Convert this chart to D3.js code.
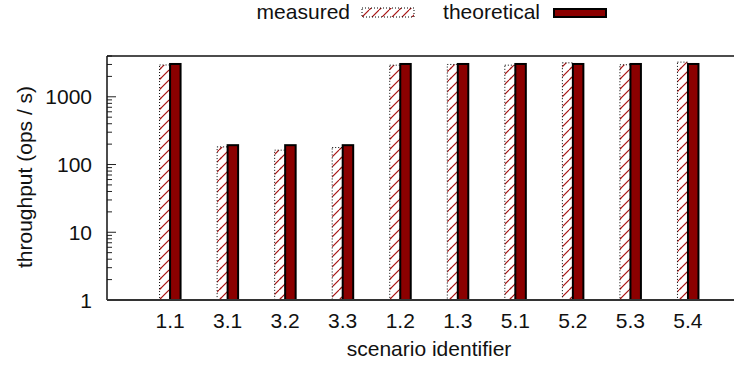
<!DOCTYPE html>
<html><head><meta charset="utf-8">
<script src="https://cdn.jsdelivr.net/npm/d3@7"></script>
<style>body{margin:0;background:#fff;} text{font-family:"Liberation Sans",Arial,sans-serif;fill:#111;}</style>
</head><body>
<svg id="c" width="734" height="365"></svg>
<script>
const categories = ["1.1","3.1","3.2","3.3","1.2","1.3","5.1","5.2","5.3","5.4"];
const measured = [2950, 182, 163, 178, 2930, 3000, 2930, 3170, 2970, 3250];
const theoretical = [3050, 193, 193, 193, 3050, 3050, 3050, 3050, 3050, 3050];
const yTicks = [1, 10, 100, 1000];
const seriesNames = ["measured", "theoretical"];

(function(){
const svg = d3.select("#c");
const pL = 107, pR = 734, pT = 56, pB = 300;
const fs = 21;
const x = d3.scaleLinear().domain([-1.096, 9.8]).range([pL, pR]);
const y = d3.scaleLog().domain([1, 4000]).range([pB, pT]);
const barW = 10.5;

const defs = svg.append("defs");
const pat = defs.append("pattern").attr("id","hatch").attr("patternUnits","userSpaceOnUse")
  .attr("width",10).attr("height",10);
pat.append("rect").attr("width",10).attr("height",10).attr("fill","#fff");
[[0,9,9,0],[-1,10,1,8],[9,10,11,8]].forEach(s=>{
  pat.append("line").attr("x1",s[0]).attr("y1",s[1]).attr("x2",s[2]).attr("y2",s[3])
    .attr("stroke","#a81010").attr("stroke-width",1.1);
});

const minor = [];
for (let d = 1; d <= 1000; d *= 10) for (let k = 2; k <= 9; k++) if (d*k <= 4000) minor.push(d*k);
svg.append("g").selectAll("line").data(minor).join("line")
  .attr("x1",pL).attr("x2",pL+5).attr("y1",d=>y(d)).attr("y2",d=>y(d))
  .attr("stroke","#222").attr("stroke-width",1);
svg.append("g").selectAll("line").data(yTicks).join("line")
  .attr("x1",pL).attr("x2",pL+9).attr("y1",d=>y(d)).attr("y2",d=>y(d))
  .attr("stroke","#222").attr("stroke-width",1);
svg.append("g").selectAll("text").data(yTicks).join("text")
  .attr("x",pL-15).attr("y",d=>y(d)+7.5).attr("text-anchor","end")
  .attr("font-size",fs).text(d=>d);

const g = svg.append("g");
g.selectAll("rect.m").data(measured).join("rect").attr("class","m")
  .attr("x",(d,i)=>x(i)-barW).attr("width",barW)
  .attr("y",d=>y(d)).attr("height",d=>pB-y(d))
  .attr("fill","url(#hatch)").attr("stroke","#000").attr("stroke-width",1)
  .attr("stroke-dasharray","1,2");
g.selectAll("rect.t").data(theoretical).join("rect").attr("class","t")
  .attr("x",(d,i)=>x(i)).attr("width",barW)
  .attr("y",d=>y(d)).attr("height",d=>pB-y(d))
  .attr("fill","#8b0000").attr("stroke","#000").attr("stroke-width",2);

svg.append("line").attr("x1",pL).attr("x2",pL).attr("y1",pT).attr("y2",pB).attr("stroke","#111").attr("stroke-width",1.5);
svg.append("line").attr("x1",pL).attr("x2",pR).attr("y1",pT).attr("y2",pT).attr("stroke","#111").attr("stroke-width",1.5);
svg.append("line").attr("x1",pL).attr("x2",pR).attr("y1",pB).attr("y2",pB).attr("stroke","#333").attr("stroke-width",2);

svg.append("g").selectAll("text").data(categories).join("text")
  .attr("x",(d,i)=>x(i)).attr("y",328).attr("text-anchor","middle")
  .attr("font-size",fs).text(d=>d);
svg.append("text").attr("x",x(4.5)).attr("y",356).attr("text-anchor","middle")
  .attr("font-size",fs).text("scenario identifier");
svg.append("text").attr("transform","translate(32,177) rotate(-90)").attr("text-anchor","middle")
  .attr("font-size",fs).text("throughput (ops / s)");

svg.append("text").attr("x",350).attr("y",19).attr("text-anchor","end").attr("font-size",fs).text(seriesNames[0]);
svg.append("rect").attr("x",362).attr("y",8).attr("width",52).attr("height",9)
  .attr("fill","url(#hatch)").attr("stroke","#000").attr("stroke-width",1).attr("stroke-dasharray","1,2");
svg.append("text").attr("x",540).attr("y",19).attr("text-anchor","end").attr("font-size",fs).text(seriesNames[1]);
svg.append("rect").attr("x",554).attr("y",9).attr("width",52).attr("height",8)
  .attr("fill","#8b0000").attr("stroke","#000").attr("stroke-width",2);
})();
</script>
</body></html>
